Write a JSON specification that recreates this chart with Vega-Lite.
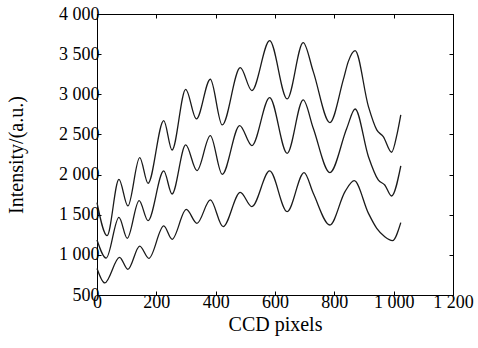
{
  "$schema": "https://vega.github.io/schema/vega-lite/v6.json",
  "width": 356,
  "height": 281,
  "autosize": "none",
  "padding": {"left": 97, "top": 14, "right": 25, "bottom": 53},
  "background": "white",
  "config": {
    "view": {"stroke": "black", "strokeWidth": 1},
    "font": "Liberation Serif",
    "axis": {
      "grid": false,
      "domainColor": "black",
      "tickColor": "black",
      "tickSize": -4,
      "labelFont": "Liberation Serif",
      "labelFontSize": 18,
      "labelColor": "black",
      "titleFont": "Liberation Serif",
      "titleFontSize": 20,
      "titleFontWeight": "normal",
      "titleColor": "black"
    }
  },
  "data": {
    "values": [
      {"c": "A", "x": 0, "y": 1650}, {"c": "A", "x": 34, "y": 1240}, {"c": "A", "x": 74, "y": 1940}, {"c": "A", "x": 104, "y": 1609},
      {"c": "A", "x": 144, "y": 2211}, {"c": "A", "x": 172, "y": 1891}, {"c": "A", "x": 225, "y": 2672}, {"c": "A", "x": 253, "y": 2306},
      {"c": "A", "x": 299, "y": 3062}, {"c": "A", "x": 335, "y": 2693}, {"c": "A", "x": 382, "y": 3187}, {"c": "A", "x": 422, "y": 2618},
      {"c": "A", "x": 483, "y": 3332}, {"c": "A", "x": 522, "y": 3046}, {"c": "A", "x": 582, "y": 3668}, {"c": "A", "x": 641, "y": 2942},
      {"c": "A", "x": 695, "y": 3644}, {"c": "A", "x": 729, "y": 3282}, {"c": "A", "x": 785, "y": 2647}, {"c": "A", "x": 830, "y": 3179},
      {"c": "A", "x": 847, "y": 3407}, {"c": "A", "x": 870, "y": 3544}, {"c": "A", "x": 915, "y": 2846}, {"c": "A", "x": 943, "y": 2556},
      {"c": "A", "x": 965, "y": 2473}, {"c": "A", "x": 993, "y": 2278}, {"c": "A", "x": 1012, "y": 2514}, {"c": "A", "x": 1024, "y": 2743},
      {"c": "B", "x": 0, "y": 1185}, {"c": "B", "x": 31, "y": 960}, {"c": "B", "x": 74, "y": 1468}, {"c": "B", "x": 102, "y": 1206},
      {"c": "B", "x": 142, "y": 1675}, {"c": "B", "x": 172, "y": 1426}, {"c": "B", "x": 225, "y": 2045}, {"c": "B", "x": 253, "y": 1758},
      {"c": "B", "x": 299, "y": 2369}, {"c": "B", "x": 337, "y": 2049}, {"c": "B", "x": 382, "y": 2485}, {"c": "B", "x": 422, "y": 2003},
      {"c": "B", "x": 481, "y": 2610}, {"c": "B", "x": 522, "y": 2361}, {"c": "B", "x": 582, "y": 2959}, {"c": "B", "x": 641, "y": 2265},
      {"c": "B", "x": 695, "y": 2930}, {"c": "B", "x": 729, "y": 2577}, {"c": "B", "x": 785, "y": 2024}, {"c": "B", "x": 842, "y": 2577},
      {"c": "B", "x": 870, "y": 2817}, {"c": "B", "x": 915, "y": 2223}, {"c": "B", "x": 948, "y": 1933}, {"c": "B", "x": 970, "y": 1870},
      {"c": "B", "x": 993, "y": 1733}, {"c": "B", "x": 1024, "y": 2107},
      {"c": "C", "x": 0, "y": 830}, {"c": "C", "x": 26, "y": 650}, {"c": "C", "x": 76, "y": 969}, {"c": "C", "x": 104, "y": 820},
      {"c": "C", "x": 144, "y": 1110}, {"c": "C", "x": 175, "y": 957}, {"c": "C", "x": 225, "y": 1360}, {"c": "C", "x": 253, "y": 1194},
      {"c": "C", "x": 301, "y": 1566}, {"c": "C", "x": 337, "y": 1393}, {"c": "C", "x": 382, "y": 1684}, {"c": "C", "x": 425, "y": 1351},
      {"c": "C", "x": 483, "y": 1779}, {"c": "C", "x": 522, "y": 1601}, {"c": "C", "x": 582, "y": 2045}, {"c": "C", "x": 641, "y": 1538},
      {"c": "C", "x": 698, "y": 2024}, {"c": "C", "x": 729, "y": 1767}, {"c": "C", "x": 785, "y": 1372}, {"c": "C", "x": 836, "y": 1788},
      {"c": "C", "x": 867, "y": 1924}, {"c": "C", "x": 915, "y": 1517}, {"c": "C", "x": 943, "y": 1330}, {"c": "C", "x": 970, "y": 1226},
      {"c": "C", "x": 996, "y": 1177}, {"c": "C", "x": 1024, "y": 1401}
    ]
  },
  "layer": [
    {
      "mark": {"type": "line", "interpolate": "monotone", "color": "#1a1a1a", "strokeWidth": 1.3},
      "encoding": {
        "x": {
          "field": "x", "type": "quantitative",
          "scale": {"domain": [0, 1200], "nice": false, "zero": false},
          "axis": {
            "orient": "bottom", "title": "CCD pixels",
            "values": [0, 200, 400, 600, 800, 1000, 1200],
            "labelExpr": "replace(format(datum.value, ','), ',', ' ')",
            "labelPadding": 2, "titlePadding": 3, "labelFlush": false
          }
        },
        "y": {
          "field": "y", "type": "quantitative",
          "scale": {"domain": [500, 4000], "nice": false, "zero": false},
          "axis": {
            "orient": "left", "title": "Intensity/(a.u.)",
            "values": [500, 1000, 1500, 2000, 2500, 3000, 3500, 4000],
            "labelExpr": "replace(format(datum.value, ','), ',', ' ')",
            "labelPadding": 2, "titlePadding": 32, "labelFlush": false
          }
        },
        "detail": {"field": "c", "type": "nominal"}
      }
    },
    {
      "mark": {"type": "line", "opacity": 0},
      "encoding": {
        "x": {
          "field": "x", "type": "quantitative",
          "scale": {"domain": [0, 1200], "nice": false, "zero": false},
          "axis": {"orient": "top", "title": null, "labels": false, "values": [0, 200, 400, 600, 800, 1000, 1200]}
        },
        "y": {
          "field": "y", "type": "quantitative",
          "scale": {"domain": [500, 4000], "nice": false, "zero": false},
          "axis": {"orient": "right", "title": null, "labels": false, "values": [500, 1000, 1500, 2000, 2500, 3000, 3500, 4000]}
        },
        "detail": {"field": "c", "type": "nominal"}
      }
    }
  ],
  "resolve": {"axis": {"x": "independent", "y": "independent"}}
}
